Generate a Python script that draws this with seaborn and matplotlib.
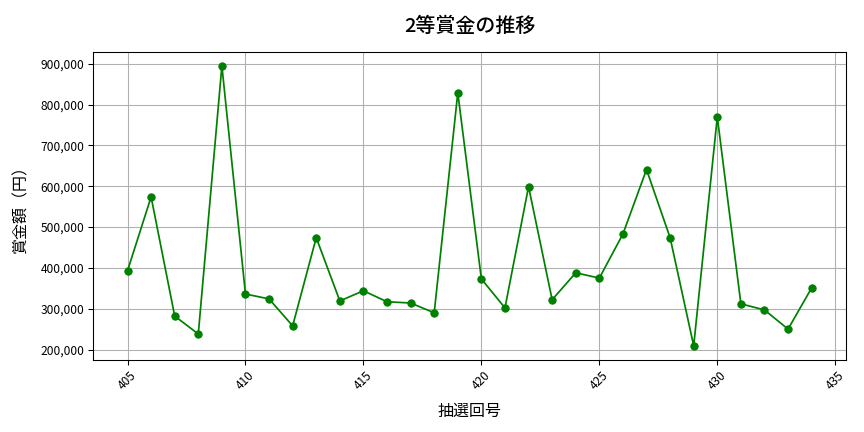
import matplotlib
matplotlib.use('Agg')
import matplotlib.pyplot as plt
import matplotlib.ticker as mticker
import pandas as pd
import seaborn as sns

# draw numbers (抽選回号) and 2nd prize amounts
draws = list(range(405, 435))
prize = [393000, 574000, 282000, 238000, 895000, 336000, 324000, 258000, 474000, 319000,
         344000, 317000, 314000, 290000, 829000, 373000, 302000, 599000, 322000, 388000,
         375000, 483000, 641000, 474000, 209000, 770000, 312000, 297000, 250000, 351000]

df = pd.DataFrame({'draw': draws, 'prize': prize})

plt.rcParams['font.family'] = ['Noto Sans CJK JP', 'DejaVu Sans']

fig, ax = plt.subplots(figsize=(9, 4.5), dpi=96)
sns.lineplot(data=df, x='draw', y='prize', color='green', marker='o',
             markersize=5.5, markeredgecolor='green', linewidth=1.3, ax=ax)

ax.set_title('2等賞金の推移', fontsize=15, fontweight='medium', pad=15)
ax.set_xlabel('抽選回号', fontsize=12, labelpad=8)
ax.set_ylabel('賞金額（円）', fontsize=12, labelpad=8)
ax.yaxis.set_major_formatter(mticker.FuncFormatter(lambda v, p: f'{int(v):,}'))
ax.tick_params(axis='x', labelrotation=45)
ax.tick_params(labelsize=9)
ax.grid(True, color='#b0b0b0', linewidth=0.8)

fig.subplots_adjust(left=0.108, right=0.979, top=0.88, bottom=0.167)
fig.savefig('out.png')
